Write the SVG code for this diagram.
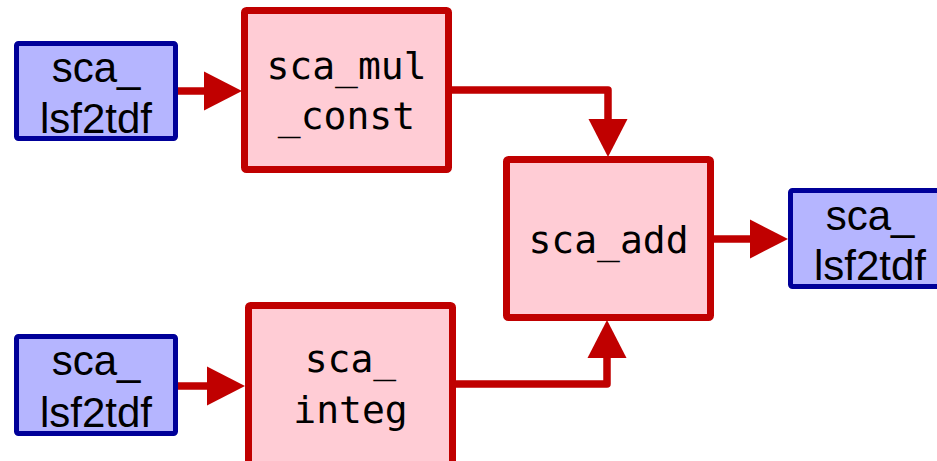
<svg xmlns="http://www.w3.org/2000/svg" width="937" height="461" viewBox="0 0 937 461">
  <style>
    .port rect { fill: #b5b5ff; stroke: #000099; stroke-width: 5; }
    .port text { font-family: "Liberation Sans", Arial, sans-serif; font-size: 42px; fill: #000; text-anchor: middle; }
    .block rect { fill: #ffccd5; stroke: #c00000; stroke-width: 7; }
    .block text { font-family: "DejaVu Sans Mono", monospace; font-size: 38px; fill: #000; text-anchor: middle; }
    .wire { fill: none; stroke: #c00000; stroke-width: 7.5; stroke-linejoin: round; marker-end: url(#head); }
  </style>
  <defs>
    <marker id="head" markerUnits="userSpaceOnUse" markerWidth="40" markerHeight="40" refX="0" refY="19.5" orient="auto" overflow="visible">
      <path d="M0,0 L38,19.5 L0,39 Z" fill="#c00000"/>
    </marker>
  </defs>

  <rect width="937" height="461" fill="#ffffff"/>

  <g id="connectors">
    <path class="wire" d="M178,91 H204"/>
    <path class="wire" d="M452,90 H608 V119"/>
    <path class="wire" d="M714,239 H750"/>
    <path class="wire" d="M178,386 H207"/>
    <path class="wire" d="M456,384 H607 V358"/>
  </g>

  <g id="src_top" class="port">
    <rect x="16.5" y="43.5" width="159" height="95" rx="2"/>
    <text x="96" y="82">sca_</text>
    <text x="96" y="133">lsf2tdf</text>
  </g>

  <g id="src_bottom" class="port">
    <rect x="16.5" y="336.5" width="159" height="97" rx="2"/>
    <text x="96" y="375">sca_</text>
    <text x="96" y="427">lsf2tdf</text>
  </g>

  <g id="sink" class="port">
    <rect x="790.5" y="190.5" width="159" height="96" rx="2"/>
    <text x="870" y="230">sca_</text>
    <text x="870" y="280">lsf2tdf</text>
  </g>

  <g id="mul_const" class="block">
    <rect x="244.5" y="10.5" width="204" height="159" rx="2"/>
    <text x="346.5" y="78.5">sca_mul</text>
    <text x="346.5" y="129">_const</text>
  </g>

  <g id="add" class="block">
    <rect x="506.5" y="159.5" width="204" height="158" rx="2"/>
    <text x="608.5" y="252.5">sca_add</text>
  </g>

  <g id="integ" class="block">
    <rect x="248.5" y="305.5" width="204" height="159" rx="2"/>
    <text x="350.5" y="372">sca_</text>
    <text x="350.5" y="423">integ</text>
  </g>
</svg>
